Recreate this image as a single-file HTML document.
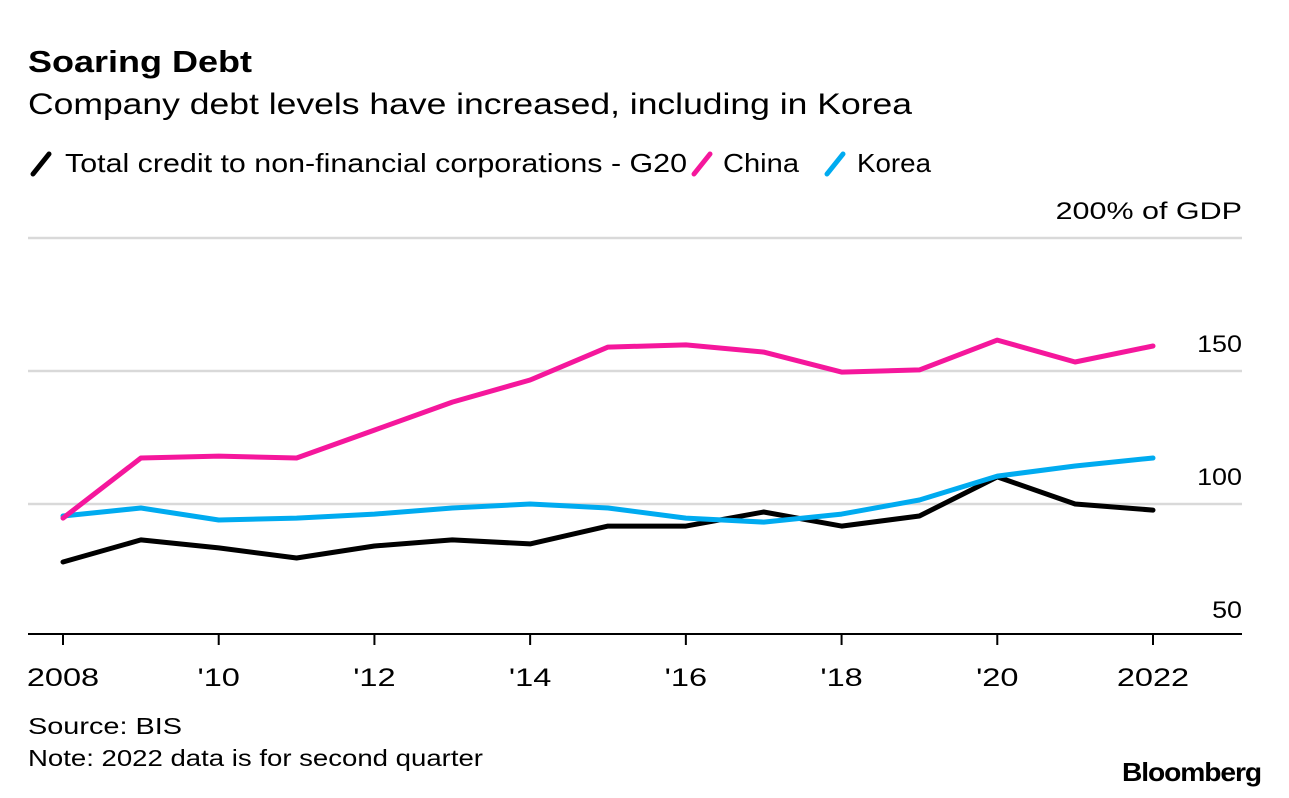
<!DOCTYPE html>
<html><head><meta charset="utf-8"><style>
body{margin:0;background:#fff;font-family:"Liberation Sans",sans-serif;}
#wrap{position:relative;width:1289px;height:798px;overflow:hidden;}
</style></head><body>
<div id="wrap">
<svg id="chart" width="1289" height="798" xmlns="http://www.w3.org/2000/svg">
<text x="28" y="72" font-size="31" font-weight="bold" fill="#000" textLength="224" lengthAdjust="spacingAndGlyphs">Soaring Debt</text>
<text x="28" y="114" font-size="30" fill="#000" textLength="884" lengthAdjust="spacingAndGlyphs">Company debt levels have increased, including in Korea</text>
<g>
<line x1="33" y1="174" x2="49" y2="154" stroke="#000" stroke-width="5" stroke-linecap="round"/>
<text x="65" y="172" font-size="26" textLength="622" lengthAdjust="spacingAndGlyphs">Total credit to non-financial corporations - G20</text>
<line x1="694" y1="174" x2="710" y2="154" stroke="#f5179c" stroke-width="5" stroke-linecap="round"/>
<text x="723" y="172" font-size="26" textLength="76" lengthAdjust="spacingAndGlyphs">China</text>
<line x1="827" y1="174" x2="843" y2="154" stroke="#00abf0" stroke-width="5" stroke-linecap="round"/>
<text x="857" y="172" font-size="26" textLength="74" lengthAdjust="spacingAndGlyphs">Korea</text>
</g>
<g id="grid"></g><g id="axes"></g><g id="lines"></g>
<text x="28" y="734" font-size="23" textLength="154" lengthAdjust="spacingAndGlyphs">Source: BIS</text>
<text x="28" y="766" font-size="23" textLength="455" lengthAdjust="spacingAndGlyphs">Note: 2022 data is for second quarter</text>
<text x="1261" y="781" font-size="26" font-weight="bold" text-anchor="end" letter-spacing="-1" textLength="139" lengthAdjust="spacingAndGlyphs">Bloomberg</text>
</svg>
</div>
<script>
const years=[2008,2009,2010,2011,2012,2013,2014,2015,2016,2017,2018,2019,2020,2021,2022];
const g20=[78.2,86.5,83.5,79.7,84.2,86.5,85,91.7,91.7,97,91.7,95.5,110.2,100,97.7];
const china=[94.7,117.3,118,117.3,127.8,138.3,146.6,159,159.8,157.1,149.6,150.4,161.6,153.4,159.4];
const korea=[95.5,98.5,94,94.7,96.2,98.5,100,98.5,94.7,93.2,96.2,101.5,110.5,114.3,117.3];
const yTicks=[50,100,150,200];
const yTickLabels=["50","100","150","200% of GDP"];
const xTicks=[2008,2010,2012,2014,2016,2018,2020,2022];
const xTickLabels=["2008","'10","'12","'14","'16","'18","'20","2022"];
const NS="http://www.w3.org/2000/svg";
function x(v){return 63+(v-2008)*(1153-63)/14;}
function y(v){return 637-(v-50)*(637-238)/150;}
function mk(t,a,p){const e=document.createElementNS(NS,t);for(const k in a)e.setAttribute(k,a[k]);p.appendChild(e);return e;}
function widen(t,f){const w=t.getComputedTextLength();t.setAttribute('textLength',(w*f).toFixed(1));t.setAttribute('lengthAdjust','spacingAndGlyphs');}
const grid=document.getElementById('grid'),axes=document.getElementById('axes'),lines=document.getElementById('lines');
yTicks.forEach((v,i)=>{
  if(v>50){const l=mk('line',{x1:28,x2:1242,y1:y(v),y2:y(v),stroke:'#d9d9d9','stroke-width':2.5},grid);
  
  }
  const t=mk('text',{x:1242,y:y(v)-19,'font-size':24,'text-anchor':'end'},grid);
  t.textContent=yTickLabels[i];
  
  
  widen(t,i==3?1.27:1.12);
});
const ax=mk('line',{x1:28,x2:1242,y1:634,y2:634,stroke:'#000','stroke-width':2},axes);


xTicks.forEach((v,i)=>{
  const tk=mk('line',{x1:x(v),x2:x(v),y1:634,y2:645,stroke:'#000','stroke-width':2},axes);
  
  
  const t=mk('text',{x:x(v),y:686,'font-size':25,'text-anchor':'middle'},axes);
  t.textContent=xTickLabels[i];
  
  
  widen(t,1.3);
});
[[g20,'#000','line-g20'],[korea,'#00abf0','line-korea'],[china,'#f5179c','line-china']].forEach(s=>{
  const d=s[0].map((v,i)=>(i?'L':'M')+x(years[i]).toFixed(1)+','+y(v).toFixed(1)).join(' ');
  const p=mk('path',{d:d,fill:'none',stroke:s[1],'stroke-width':5,'stroke-linejoin':'round','stroke-linecap':'round'},lines);
  
  
});
</script>
</body></html>
